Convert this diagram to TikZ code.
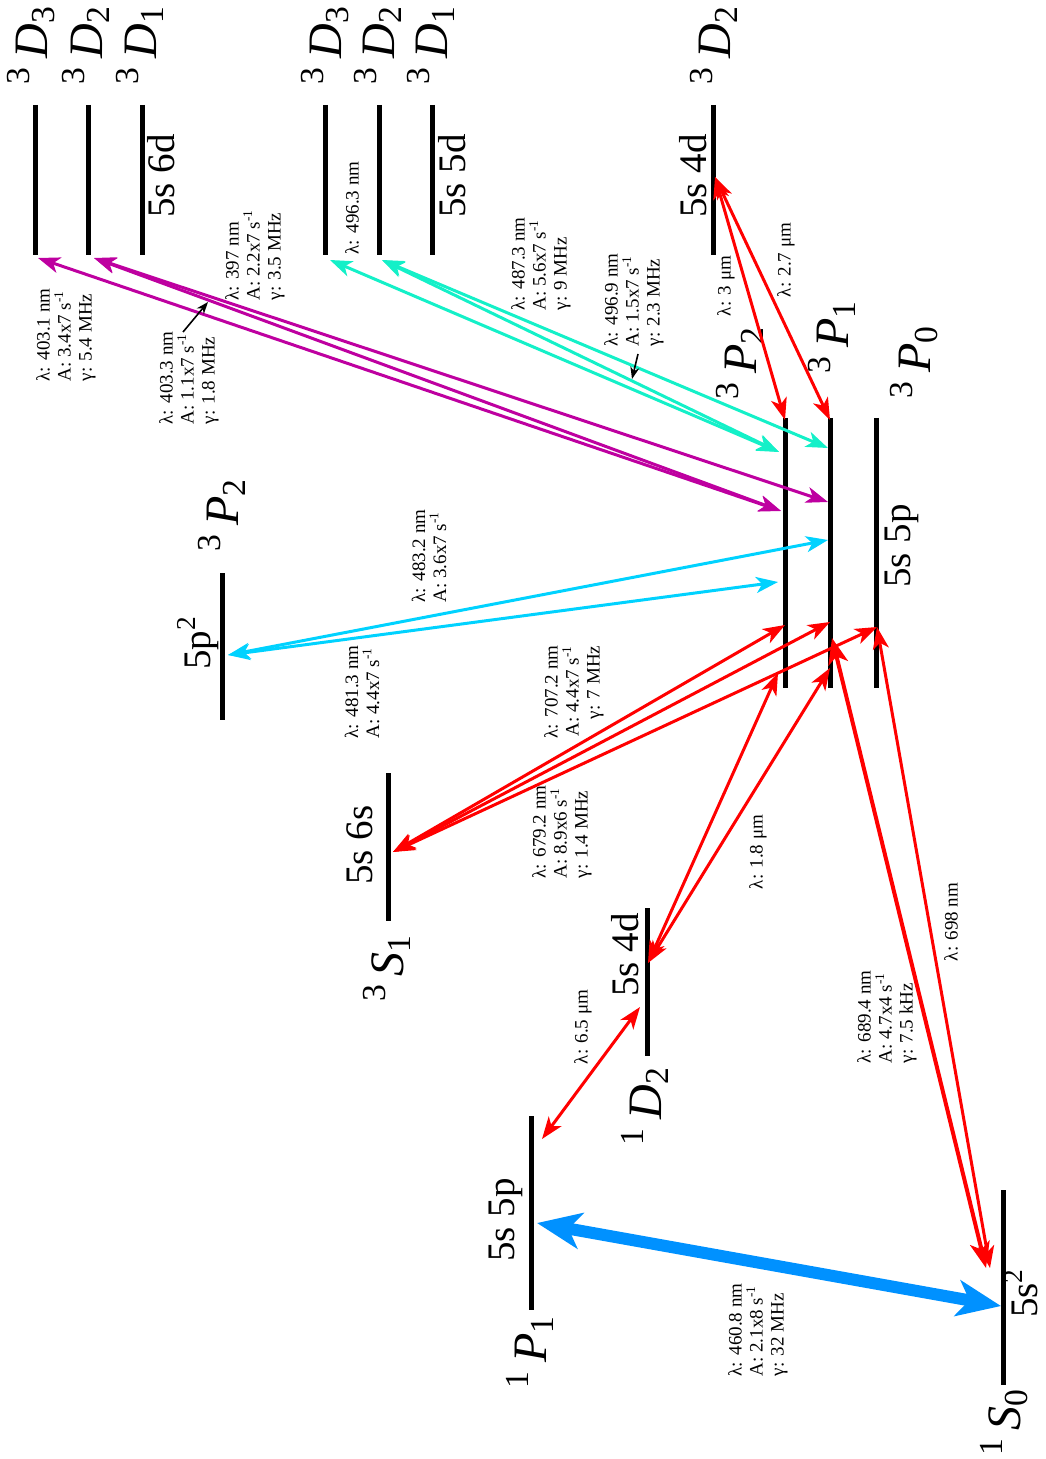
\documentclass[tikz,border=0pt]{standalone}
\usepackage{fontspec}
\setmainfont{Liberation Serif}
\usetikzlibrary{arrows.meta}
\definecolor{mag}{RGB}{190,0,160}
\definecolor{teal2}{RGB}{20,240,200}
\definecolor{cyan2}{RGB}{0,210,255}
\definecolor{red2}{RGB}{255,0,0}
\definecolor{blue2}{RGB}{0,145,255}
\newcommand{\term}[3]{\textsuperscript{#1}\,\textit{#2}\textsubscript{#3}}
\newcommand{\sinv}{s\textsuperscript{-1}}
\begin{document}
\begin{tikzpicture}[x=0.5pt,y=-0.5pt,
  lev/.style={line width=2.5pt},
  tr/.style={line width=1.5pt,{Stealth[length=11pt,width=8pt,inset=3pt]}-{Stealth[length=11pt,width=8pt,inset=3pt]}},
  trthick/.style={line width=2pt,{Stealth[length=13pt,width=10pt,inset=3.5pt]}-{Stealth[length=13pt,width=10pt,inset=3.5pt]}},
  trbig/.style={line width=6pt,{Stealth[length=22pt,width=18pt,inset=6pt]}-{Stealth[length=22pt,width=18pt,inset=6pt]}},
  lab/.style={rotate=90,font=\fontsize{9.5pt}{10.5pt}\selectfont,align=left,inner sep=0pt},
  big/.style={rotate=90,font=\fontsize{19.5pt}{22pt}\selectfont,inner sep=0pt},
  term/.style={rotate=90,font=\fontsize{24pt}{28pt}\selectfont,inner sep=0pt},
  ptr/.style={line width=0.8pt,-{Stealth[length=6pt,width=4.5pt]}}
]
\useasboundingbox (0,0) rectangle (1045,1459);

% ---------- levels ----------
\foreach \x in {35,88,142,325,379,432,713} {\draw[lev] (\x,105) -- (\x,255);}
\foreach \x in {785,830,876} {\draw[lev] (\x,418) -- (\x,688);}
\draw[lev] (222,573) -- (222,720);
\draw[lev] (388,773) -- (388,921);
\draw[lev] (647,908) -- (647,1056);
\draw[lev] (531,1116) -- (531,1310);
\draw[lev] (1003,1190) -- (1003,1385);

% ---------- level labels ----------
\node[term] (tA) at (31,45) {\term{3}{D}{3}};
\node[term] (tB) at (86,45) {\term{3}{D}{2}};
\node[term] (tC) at (140,45) {\term{3}{D}{1}};
\node[big] (cA) at (161,176) {5s 6d};
\node[term] (tD) at (325,45) {\term{3}{D}{3}};
\node[term] (tE) at (378,45) {\term{3}{D}{2}};
\node[term] (tF) at (431,45) {\term{3}{D}{1}};
\node[big] (cB) at (452,176) {5s 5d};
\node[term] (tG) at (714,45) {\term{3}{D}{2}};
\node[big] (cC) at (693,176) {5s 4d};
\node[term] (tH) at (740,363) {\term{3}{P}{2}};
\node[term] (tI) at (832,337) {\term{3}{P}{1}};
\node[term] (tJ) at (914,362) {\term{3}{P}{0}};
\node[big] (cD) at (902,546) {5s 5p};
\node[term] (tK) at (222,515) {\term{3}{P}{2}};
\node[big] (cE) at (198,643) {5p\textsuperscript{2}};
\node[big] (cF) at (360,845) {5s 6s};
\node[term] (tL) at (387,968) {\term{3}{S}{1}};
\node[big] (cG) at (625,955) {5s 4d};
\node[term] (tM) at (645,1106) {\term{1}{D}{2}};
\node[big] (cH) at (506,1220) {5s 5p};
\node[term] (tN) at (530,1352) {\term{1}{P}{1}};
\node[big] (cI) at (1021,1293) {5s\textsuperscript{2}};
\node[term] (tO) at (1004,1422) {\term{1}{S}{0}};

% ---------- endpoints ----------
\coordinate (d63b) at (38,258);
\coordinate (d62b) at (94,258);
\coordinate (d53b) at (330,260);
\coordinate (d52b) at (382,260);
\coordinate (d42m) at (715,177);
\coordinate (p2top) at (785,420);
\coordinate (p1top) at (830,420);
\coordinate (p2t) at (779,452);
\coordinate (p1t) at (828,448);
\coordinate (p2m) at (781,511);
\coordinate (p1m) at (828,502);
\coordinate (p2c) at (778,582);
\coordinate (p1c) at (828,540);
\coordinate (p2r) at (785,625);
\coordinate (p1r) at (830,622);
\coordinate (p0r) at (877,627);
\coordinate (p2d) at (778,673);
\coordinate (p1d) at (830,668);
\coordinate (p1s) at (832,638);
\coordinate (pp) at (228,655);
\coordinate (s1) at (393,852);
\coordinate (d1a) at (648,963);
\coordinate (d1b) at (640,1007);
\coordinate (pa) at (542,1139);
\coordinate (pb) at (537,1223);
\coordinate (s0a) at (986,1268);
\coordinate (s0b) at (990,1268);
\coordinate (s0c) at (1001,1306);

% ---------- transitions ----------
\draw[tr,mag] (d63b) -- (p2m);
\draw[tr,mag] (d62b) -- (p2m);
\draw[tr,mag] (d62b) -- (p1m);
\draw[tr,teal2] (d53b) -- (p2t);
\draw[tr,teal2] (d52b) -- (p2t);
\draw[tr,teal2] (d52b) -- (p1t);
\draw[tr,cyan2] (pp) -- (p2c);
\draw[tr,cyan2] (pp) -- (p1c);
\draw[tr,red2] (d42m) -- (p2top);
\draw[tr,red2] (d42m) -- (p1top);
\draw[tr,red2] (s1) -- (p2r);
\draw[tr,red2] (s1) -- (p1r);
\draw[tr,red2] (s1) -- (p0r);
\draw[tr,red2] (d1a) -- (p2d);
\draw[tr,red2] (d1a) -- (p1d);
\draw[tr,red2] (pa) -- (d1b);
\draw[tr,red2] (p0r) -- (s0b);
\draw[trthick,red2] (p1s) -- (s0a);
\draw[trbig,blue2] (pb) -- (s0c);

% ---------- transition labels ----------
\node[lab] (l1) at (66,335) {λ: 403.1 nm\\A: 3.4x7 \sinv\\γ: 5.4 MHz};
\node[lab] (l2) at (189,378) {λ: 403.3 nm\\A: 1.1x7 \sinv\\γ: 1.8 MHz};
\node[lab] (l3) at (255,255) {λ: 397 nm\\A: 2.2x7 \sinv\\γ: 3.5 MHz};
\node[lab] (l4) at (352,208) {λ: 496.3 nm};
\node[lab] (l5) at (541,264) {λ: 487.3 nm\\A: 5.6x7 \sinv\\γ: 9 MHz};
\node[lab] (l6) at (634,300) {λ: 496.9 nm\\A: 1.5x7 \sinv\\γ: 2.3 MHz};
\node[lab] (l7) at (726,286) {λ: 3 μm};
\node[lab] (l8) at (786,260) {λ: 2.7 μm};
\node[lab] (l9) at (429,556) {λ: 483.2 nm\\A: 3.6x7 \sinv};
\node[lab] (l10) at (362,692) {λ: 481.3 nm\\A: 4.4x7 \sinv};
\node[lab,align=right] (l11) at (574,692) {λ: 707.2 nm\\A: 4.4x7 \sinv\\γ: 7 MHz};
\node[lab] (l12) at (562,832) {λ: 679.2 nm\\A: 8.9x6 \sinv\\γ: 1.4 MHz};
\node[lab] (l13) at (758,852) {λ: 1.8 μm};
\node[lab] (l14) at (951,922) {λ: 698 nm};
\node[lab] (l15) at (583,1027) {λ: 6.5 μm};
\node[lab] (l16) at (887,1017) {λ: 689.4 nm\\A: 4.7x4 \sinv\\γ: 7.5 kHz};
\node[lab] (l17) at (758,1330) {λ: 460.8 nm\\A: 2.1x8 \sinv\\γ: 32 MHz};

% ---------- pointers ----------
\coordinate (q1) at (183,332);
\coordinate (q1e) at (208,302);
\coordinate (q2) at (638,354);
\coordinate (q2e) at (632,379);
\draw[ptr] (q1) -- (q1e);
\draw[ptr] (q2) -- (q2e);
\end{tikzpicture}
\end{document}
